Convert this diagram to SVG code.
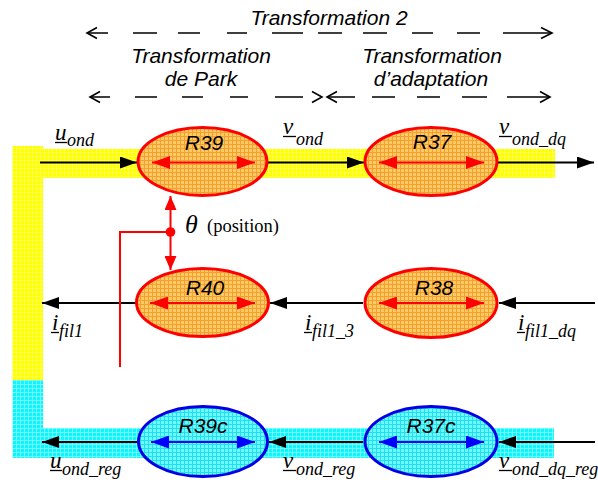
<svg xmlns="http://www.w3.org/2000/svg" width="598" height="483" viewBox="0 0 598 483">
  <style>
    .title { font-family: "Liberation Sans", Arial, sans-serif; font-style: italic; font-size: 21px; fill: #000; text-anchor: middle; }
    .rlab { font-family: "Liberation Sans", Arial, sans-serif; font-style: italic; font-size: 21px; fill: #000; text-anchor: middle; }
    .m { font-family: "Liberation Serif", "Times New Roman", serif; font-style: italic; font-size: 23px; fill: #000; }
    .sub { font-family: "Liberation Serif", "Times New Roman", serif; font-style: italic; font-size: 18px; fill: #000; }
    .ul { stroke: #000; stroke-width: 1.3; }
    .dash { fill: none; stroke: #000; stroke-width: 1.6; }
    .flow { fill: none; stroke: #000; stroke-width: 2; marker-end: url(#ah); }
    .rnode { fill: url(#orangeGrid); stroke: #f00; stroke-width: 3; }
    .bnode { fill: url(#cyanGrid); stroke: #0000e6; stroke-width: 3; }
    .rdbl { stroke: #f00; stroke-width: 2; marker-start: url(#rh); marker-end: url(#rh); }
    .bdbl { stroke: #0000ff; stroke-width: 2; marker-start: url(#bh); marker-end: url(#bh); }
    .red { fill: none; stroke: #f00; stroke-width: 2; }
  </style>
  <defs>
    <pattern id="orangeGrid" width="4" height="4" patternUnits="userSpaceOnUse">
      <rect width="4" height="4" fill="#ffca64"/>
      <path d="M0,0.5 H4 M0.5,0 V4" stroke="#f3a030" stroke-width="1"/>
    </pattern>
    <pattern id="cyanGrid" width="4" height="4" patternUnits="userSpaceOnUse">
      <rect width="4" height="4" fill="#70f8ff"/>
      <path d="M0,0.5 H4 M0.5,0 V4" stroke="#20e0f0" stroke-width="1"/>
    </pattern>
    <pattern id="yellowBand" width="4" height="4" patternUnits="userSpaceOnUse">
      <rect width="4" height="4" fill="#ffff00"/>
      <path d="M0,0.5 H4 M0.5,0 V4" stroke="#ffff70" stroke-width="0.7"/>
    </pattern>
    <pattern id="cyanBand" width="4" height="4" patternUnits="userSpaceOnUse">
      <rect width="4" height="4" fill="#10f4ff"/>
      <path d="M0,0.5 H4 M0.5,0 V4" stroke="#90ffff" stroke-width="0.7"/>
    </pattern>
    <marker id="ah" viewBox="0 0 17 12" refX="17" refY="6" markerWidth="17" markerHeight="12" markerUnits="userSpaceOnUse" orient="auto">
      <path d="M0,0 L17,6 L0,12 z" fill="#000"/>
    </marker>
    <marker id="rh" viewBox="0 0 18 13" refX="18" refY="6.5" markerWidth="18" markerHeight="13" markerUnits="userSpaceOnUse" orient="auto-start-reverse">
      <path d="M0,0 L18,6.5 L0,13 z" fill="#f00"/>
    </marker>
    <marker id="bh" viewBox="0 0 18 13" refX="18" refY="6.5" markerWidth="18" markerHeight="13" markerUnits="userSpaceOnUse" orient="auto-start-reverse">
      <path d="M0,0 L18,6.5 L0,13 z" fill="#0000ff"/>
    </marker>
    <marker id="th" viewBox="0 0 14 12" refX="14" refY="6" markerWidth="14" markerHeight="12" markerUnits="userSpaceOnUse" orient="auto">
      <path d="M0,0 L14,6 L0,12 z" fill="#f00"/>
    </marker>
  </defs>

  <!-- signal bands -->
  <g id="bands">
    <rect x="12.5" y="146" width="30.5" height="234" fill="url(#yellowBand)"/>
    <rect x="43" y="149" width="512" height="29" fill="url(#yellowBand)"/>
    <rect x="12.5" y="380" width="30.5" height="78" fill="url(#cyanBand)"/>
    <rect x="43" y="428" width="511" height="30" fill="url(#cyanBand)"/>
  </g>

  <!-- transformation spans -->
  <g id="spans">
    <text class="title" x="329" y="25">Transformation 2</text>
    <path class="dash" d="M87,33 H108 M133,33 H157 M178,33 H200 M227,33 H247 M272,33 H303 M318,33 H342 M363,33 H387 M412,33 H433 M457,33 H480 M503,33 H552"/>
    <path class="dash" d="M97,27.5 L87,33 L97,38.5 M541,27.5 L552,33 L541,38.5"/>

    <text class="title" x="201" y="63">Transformation</text>
    <text class="title" x="201" y="86">de Park</text>
    <text class="title" x="432" y="63">Transformation</text>
    <text class="title" x="431" y="86">d’adaptation</text>

    <path class="dash" d="M90,97 H110 M135,97 H157 M182,97 H203 M230,97 H248 M275,97 H303"/>
    <path class="dash" d="M100,91.5 L90,97 L100,102.5 M312,91.5 L322,97 L312,102.5"/>
    <path class="dash" d="M327,97 H355 M372,97 H395 M417,97 H440 M462,97 H487 M507,97 H550"/>
    <path class="dash" d="M337,91.5 L327,97 L337,102.5 M540,91.5 L550,97 L540,102.5"/>
  </g>

  <!-- connectors -->
  <g id="connectors">
    <line class="flow" x1="40" y1="162.5" x2="137" y2="162.5"/>
    <line class="flow" x1="268" y1="162.5" x2="364" y2="162.5"/>
    <line class="flow" x1="498" y1="162.5" x2="594" y2="162.5"/>

    <line class="flow" x1="595" y1="303" x2="499" y2="303"/>
    <line class="flow" x1="363" y1="303" x2="270" y2="303"/>
    <line class="flow" x1="136" y1="303" x2="42" y2="303"/>

    <line class="flow" x1="595" y1="442" x2="499" y2="442"/>
    <line class="flow" x1="363" y1="442" x2="269" y2="442"/>
    <line class="flow" x1="137" y1="442" x2="42" y2="442"/>

    <!-- rotor position feed -->
    <line class="red" x1="170.5" y1="232" x2="170.5" y2="196" marker-end="url(#th)"/>
    <line class="red" x1="170.5" y1="232" x2="170.5" y2="270" marker-end="url(#th)"/>
    <polyline class="red" points="170.5,232 120,232 120,367"/>
    <circle cx="170.5" cy="232" r="4.8" fill="#f00"/>
  </g>

  <!-- nodes -->
  <g id="R39">
    <ellipse class="rnode" cx="202.5" cy="161.5" rx="64.5" ry="34"/>
    <line class="rdbl" x1="152" y1="162.5" x2="255" y2="162.5"/>
    <text class="rlab" x="204" y="150">R39</text>
  </g>
  <g id="R37">
    <ellipse class="rnode" cx="431" cy="161.5" rx="66" ry="34"/>
    <line class="rdbl" x1="379" y1="162.5" x2="484" y2="162.5"/>
    <text class="rlab" x="432" y="149">R37</text>
  </g>
  <g id="R40">
    <ellipse class="rnode" cx="202.5" cy="302.5" rx="66" ry="34"/>
    <line class="rdbl" x1="150" y1="303" x2="255" y2="303"/>
    <text class="rlab" x="205" y="295">R40</text>
  </g>
  <g id="R38">
    <ellipse class="rnode" cx="431" cy="303" rx="66" ry="34.5"/>
    <line class="rdbl" x1="379" y1="303" x2="484" y2="303"/>
    <text class="rlab" x="434" y="295">R38</text>
  </g>
  <g id="R39c">
    <ellipse class="bnode" cx="203" cy="441.5" rx="64.5" ry="35"/>
    <line class="bdbl" x1="151" y1="442" x2="255" y2="442"/>
    <text class="rlab" x="203" y="433">R39c</text>
  </g>
  <g id="R37c">
    <ellipse class="bnode" cx="431" cy="441.5" rx="66" ry="35"/>
    <line class="bdbl" x1="379" y1="442" x2="484" y2="442"/>
    <text class="rlab" x="431" y="433">R37c</text>
  </g>

  <!-- signal names -->
  <g id="labels">
    <text class="m" x="55" y="140">u</text>
    <line class="ul" x1="55" y1="142.5" x2="67" y2="142.5"/>
    <text class="sub" x="67" y="146">ond</text>

    <text class="m" x="283" y="134">v</text>
    <line class="ul" x1="283" y1="136.5" x2="296" y2="136.5"/>
    <text class="sub" x="296" y="145">ond</text>

    <text class="m" x="499" y="134">v</text>
    <line class="ul" x1="499" y1="136.5" x2="512" y2="136.5"/>
    <text class="sub" x="512" y="145">ond_dq</text>

    <text font-family="Liberation Serif, Times New Roman, serif" font-style="italic" font-size="26" x="185" y="233">θ</text>
    <text font-family="Liberation Serif, Times New Roman, serif" font-size="18.5" x="207" y="232">(position)</text>

    <text class="m" x="52" y="330">i</text>
    <line class="ul" x1="51" y1="332.5" x2="59" y2="332.5"/>
    <text class="sub" x="59" y="337">fil1</text>

    <text class="m" x="305" y="330">i</text>
    <line class="ul" x1="304" y1="332.5" x2="312" y2="332.5"/>
    <text class="sub" x="312" y="337">fil1_3</text>

    <text class="m" x="518" y="330">i</text>
    <line class="ul" x1="517" y1="332.5" x2="525" y2="332.5"/>
    <text class="sub" x="525" y="337">fil1_dq</text>

    <text class="m" x="50" y="468">u</text>
    <line class="ul" x1="50" y1="470.5" x2="62" y2="470.5"/>
    <text class="sub" x="62" y="475">ond_reg</text>

    <text class="m" x="283" y="468">v</text>
    <line class="ul" x1="283" y1="470.5" x2="296" y2="470.5"/>
    <text class="sub" x="296" y="475">ond_reg</text>

    <text class="m" x="499" y="468">v</text>
    <line class="ul" x1="499" y1="470.5" x2="512" y2="470.5"/>
    <text class="sub" x="512" y="475">ond_dq_reg</text>
  </g>
</svg>
